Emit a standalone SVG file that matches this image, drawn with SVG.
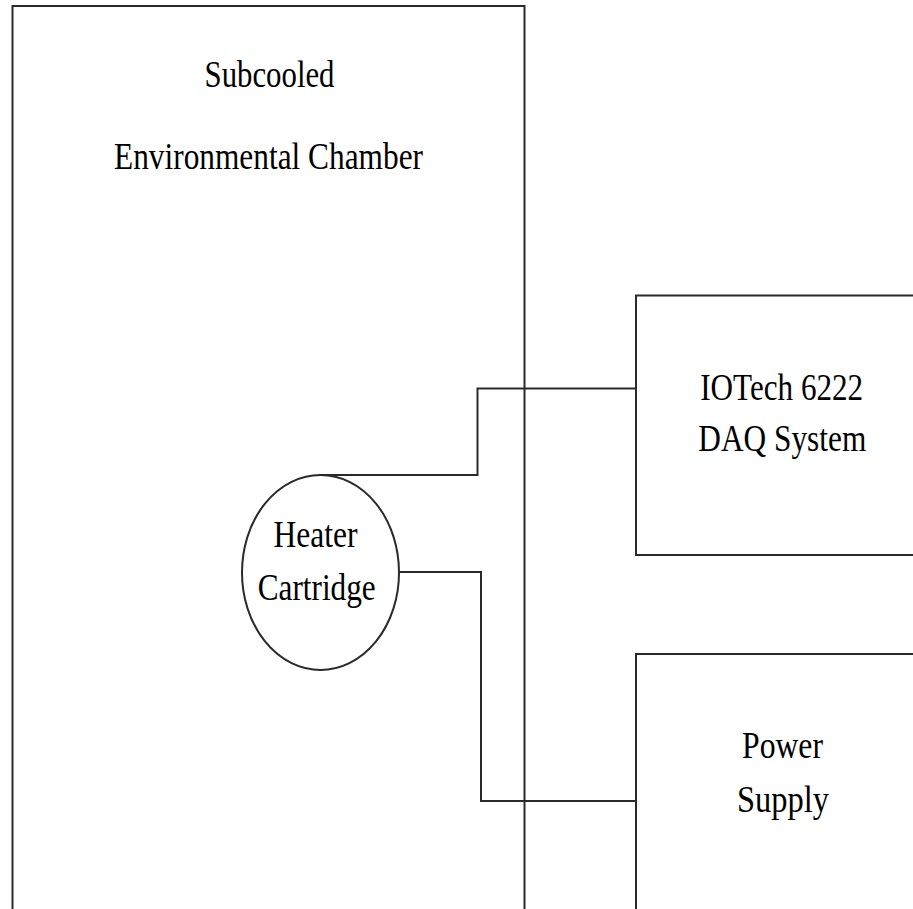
<svg xmlns="http://www.w3.org/2000/svg" width="913" height="909" viewBox="0 0 913 909">
<style>
.box{fill:none;stroke:#2a2a2a;stroke-width:2}
.wire{fill:none;stroke:#2a2a2a;stroke-width:2}
text{font-family:"Liberation Serif","Times New Roman",serif;font-size:37px;fill:#000;text-anchor:middle}
</style>
<rect width="913" height="909" fill="#fff"/>
<g id="chamber">
<rect class="box" x="12.5" y="6" width="512" height="950"/>
<text x="269.5" y="87" textLength="130" lengthAdjust="spacingAndGlyphs">Subcooled</text>
<text x="268.5" y="168.5" textLength="309" lengthAdjust="spacingAndGlyphs">Environmental Chamber</text>
</g>
<g id="connectors">
<polyline class="wire" points="320,475 477.5,475 477.5,388.5 636,388.5"/>
<polyline class="wire" points="399,572 481,572 481,801 636,801"/>
</g>
<g id="heater">
<ellipse class="box" cx="320.5" cy="572.5" rx="78.5" ry="97.5" fill="#fff"/>
<text x="315.5" y="546.7" textLength="84" lengthAdjust="spacingAndGlyphs">Heater</text>
<text x="316.7" y="600" textLength="118" lengthAdjust="spacingAndGlyphs">Cartridge</text>
</g>
<g id="daq">
<rect class="box" x="636" y="295.5" width="300" height="259.5"/>
<text x="781.7" y="400" textLength="163" lengthAdjust="spacingAndGlyphs">IOTech 6222</text>
<text x="782.3" y="451" textLength="168" lengthAdjust="spacingAndGlyphs">DAQ System</text>
</g>
<g id="power">
<rect class="box" x="636" y="654" width="300" height="300"/>
<text x="782.5" y="758.3" textLength="81" lengthAdjust="spacingAndGlyphs">Power</text>
<text x="783" y="811.7" textLength="92" lengthAdjust="spacingAndGlyphs">Supply</text>
</g>
</svg>
